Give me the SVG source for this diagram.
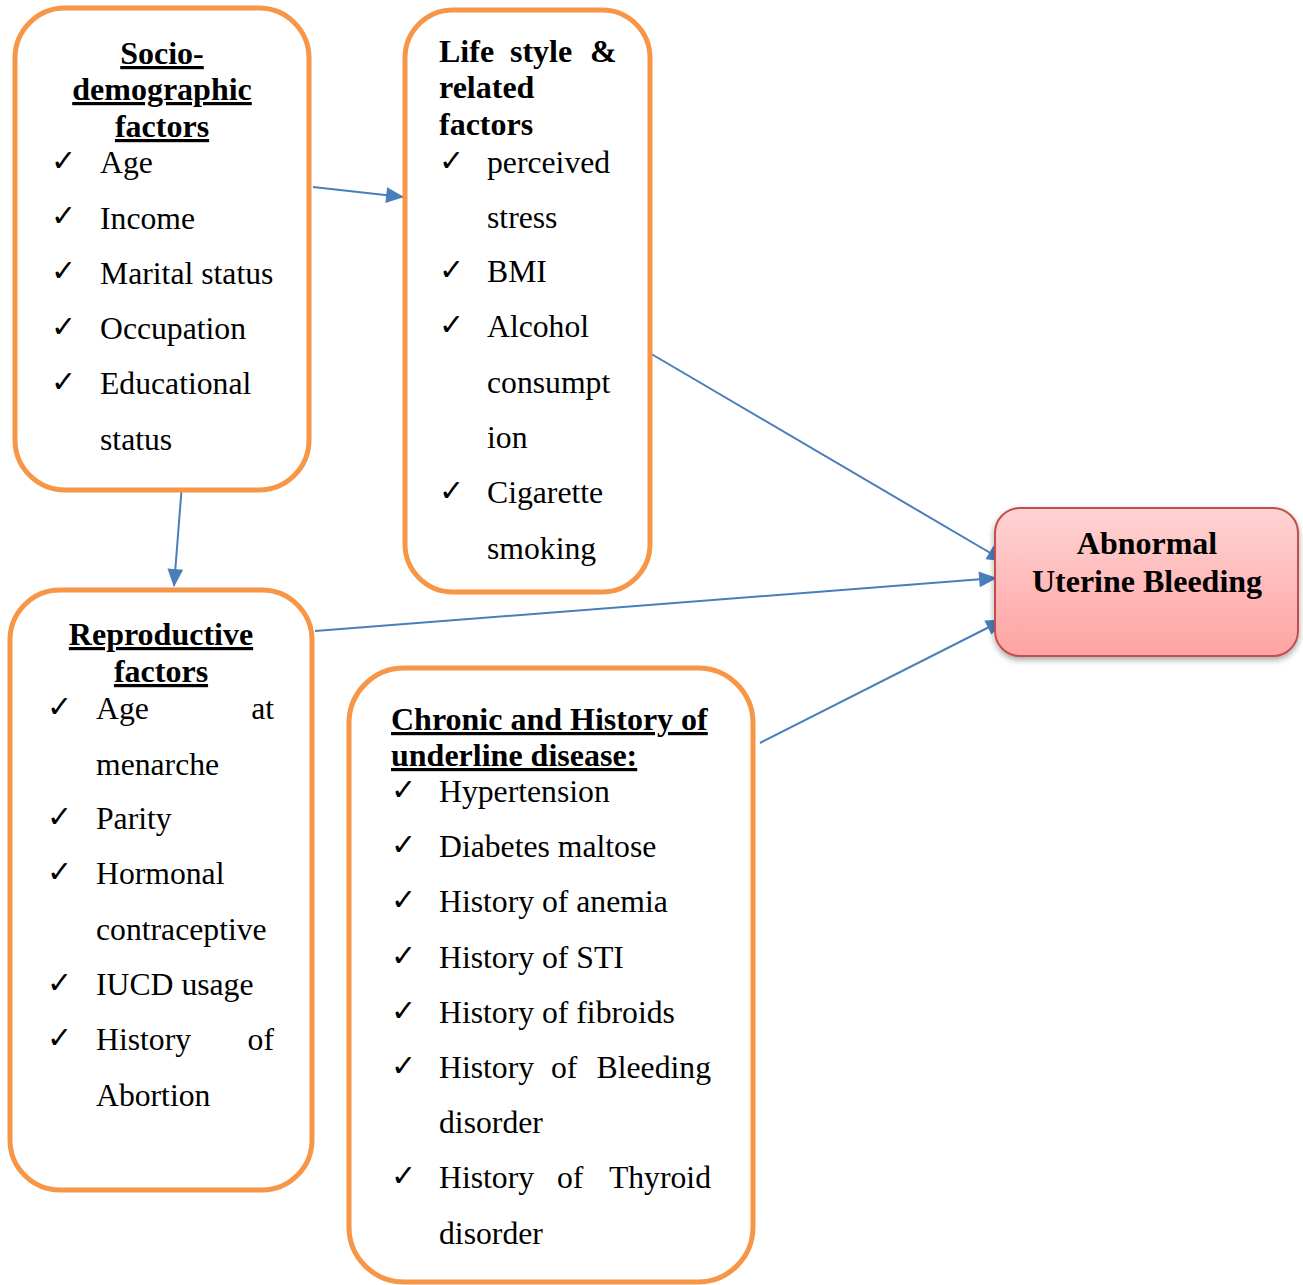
<svg xmlns="http://www.w3.org/2000/svg" width="1303" height="1285" viewBox="0 0 1303 1285">
<defs>
<style>
.box{fill:#fff;stroke:#F79646;stroke-width:5}
.t{font-family:"Liberation Serif","Times New Roman",serif;font-size:31.7px;fill:#000}
.h{font-family:"Liberation Serif","Times New Roman",serif;font-size:32px;font-weight:bold;fill:#000}
.u{text-decoration:underline}
.c{font-family:"DejaVu Sans",sans-serif;font-size:30px;font-weight:bold;fill:#000}
.con{stroke:#4A7EBB;stroke-width:2;fill:none}
</style>
<marker id="ah" viewBox="0 0 16 14" refX="15" refY="7" markerWidth="9" markerHeight="8" orient="auto" overflow="visible"><path d="M0,0 L16,7 L0,14 z" fill="#4A7EBB"/></marker>
<linearGradient id="pg" x1="0" y1="0" x2="0" y2="1"><stop offset="0" stop-color="#FFD3D3"/><stop offset="1" stop-color="#FFA3A3"/></linearGradient>
<filter id="sh" x="-10%" y="-10%" width="120%" height="130%"><feDropShadow dx="0" dy="3" stdDeviation="3" flood-color="#000" flood-opacity="0.35"/></filter>
</defs>

<g id="connectors">
<line class="con" marker-end="url(#ah)" x1="313" y1="187" x2="403" y2="197"/>
<line class="con" marker-end="url(#ah)" x1="182" y1="484" x2="174" y2="586"/>
<line class="con" marker-end="url(#ah)" x1="648" y1="352" x2="1004" y2="561"/>
<line class="con" marker-end="url(#ah)" x1="315" y1="631" x2="996" y2="578"/>
<line class="con" marker-end="url(#ah)" x1="760" y1="743" x2="1003" y2="620"/>
</g>

<g id="socio">
<rect class="box" x="15" y="8" width="294" height="482" rx="50"/>
<text class="h u" x="162" y="64" text-anchor="middle">Socio-</text>
<text class="h u" x="162" y="100" text-anchor="middle">demographic</text>
<text class="h u" x="162" y="137" text-anchor="middle">factors</text>
<text class="c" x="51" y="171">✓</text><text class="t" x="100" y="173">Age</text>
<text class="c" x="51" y="226">✓</text><text class="t" x="100" y="229">Income</text>
<text class="c" x="51" y="281">✓</text><text class="t" x="100" y="284">Marital status</text>
<text class="c" x="51" y="337">✓</text><text class="t" x="100" y="339">Occupation</text>
<text class="c" x="51" y="392">✓</text><text class="t" x="100" y="394">Educational</text>
<text class="t" x="100" y="450">status</text>
</g>

<g id="lifestyle">
<rect class="box" x="405" y="10" width="245" height="582" rx="48"/>
<text class="h" y="62"><tspan x="439">Life</tspan><tspan x="510">style</tspan><tspan x="590">&amp;</tspan></text>
<text class="h" x="439" y="98">related</text>
<text class="h" x="439" y="135">factors</text>
<text class="c" x="439" y="171">✓</text><text class="t" x="487" y="173">perceived</text>
<text class="t" x="487" y="228">stress</text>
<text class="c" x="439" y="280">✓</text><text class="t" x="487" y="282">BMI</text>
<text class="c" x="439" y="335">✓</text><text class="t" x="487" y="337">Alcohol</text>
<text class="t" x="487" y="393">consumpt</text>
<text class="t" x="487" y="448">ion</text>
<text class="c" x="439" y="501">✓</text><text class="t" x="487" y="503">Cigarette</text>
<text class="t" x="487" y="559">smoking</text>
</g>

<g id="reproductive">
<rect class="box" x="10" y="590" width="302" height="600" rx="50"/>
<text class="h u" x="161" y="645" text-anchor="middle">Reproductive</text>
<text class="h u" x="161" y="682" text-anchor="middle">factors</text>
<text class="c" x="47" y="717">✓</text><text class="t" x="96" y="719">Age</text><text class="t" x="274" y="719" text-anchor="end">at</text>
<text class="t" x="96" y="775">menarche</text>
<text class="c" x="47" y="827">✓</text><text class="t" x="96" y="829">Parity</text>
<text class="c" x="47" y="882">✓</text><text class="t" x="96" y="884">Hormonal</text>
<text class="t" x="96" y="940">contraceptive</text>
<text class="c" x="47" y="993">✓</text><text class="t" x="96" y="995">IUCD usage</text>
<text class="c" x="47" y="1048">✓</text><text class="t" x="96" y="1050">History</text><text class="t" x="274" y="1050" text-anchor="end">of</text>
<text class="t" x="96" y="1106">Abortion</text>
</g>

<g id="chronic">
<rect class="box" x="349" y="668" width="404" height="614" rx="55"/>
<text class="h u" x="391" y="730">Chronic and History of</text>
<text class="h u" x="391" y="766">underline disease:</text>
<text class="c" x="391" y="800">✓</text><text class="t" x="439" y="802">Hypertension</text>
<text class="c" x="391" y="855">✓</text><text class="t" x="439" y="857">Diabetes maltose</text>
<text class="c" x="391" y="910">✓</text><text class="t" x="439" y="912">History of anemia</text>
<text class="c" x="391" y="966">✓</text><text class="t" x="439" y="968">History of STI</text>
<text class="c" x="391" y="1021">✓</text><text class="t" x="439" y="1023">History of fibroids</text>
<text class="c" x="391" y="1076">✓</text><text class="t" y="1078"><tspan x="439">History</tspan><tspan x="551">of</tspan><tspan x="711" text-anchor="end">Bleeding</tspan></text>
<text class="t" x="439" y="1133">disorder</text>
<text class="c" x="391" y="1186">✓</text><text class="t" y="1188"><tspan x="439">History</tspan><tspan x="557">of</tspan><tspan x="711" text-anchor="end">Thyroid</tspan></text>
<text class="t" x="439" y="1244">disorder</text>
</g>

<g id="aub">
<rect x="995" y="508" width="303" height="148" rx="25" fill="url(#pg)" stroke="#C0504D" stroke-width="2" filter="url(#sh)"/>
<text class="h" x="1147" y="554" text-anchor="middle">Abnormal</text>
<text class="h" x="1147" y="592" text-anchor="middle">Uterine Bleeding</text>
</g>
</svg>
